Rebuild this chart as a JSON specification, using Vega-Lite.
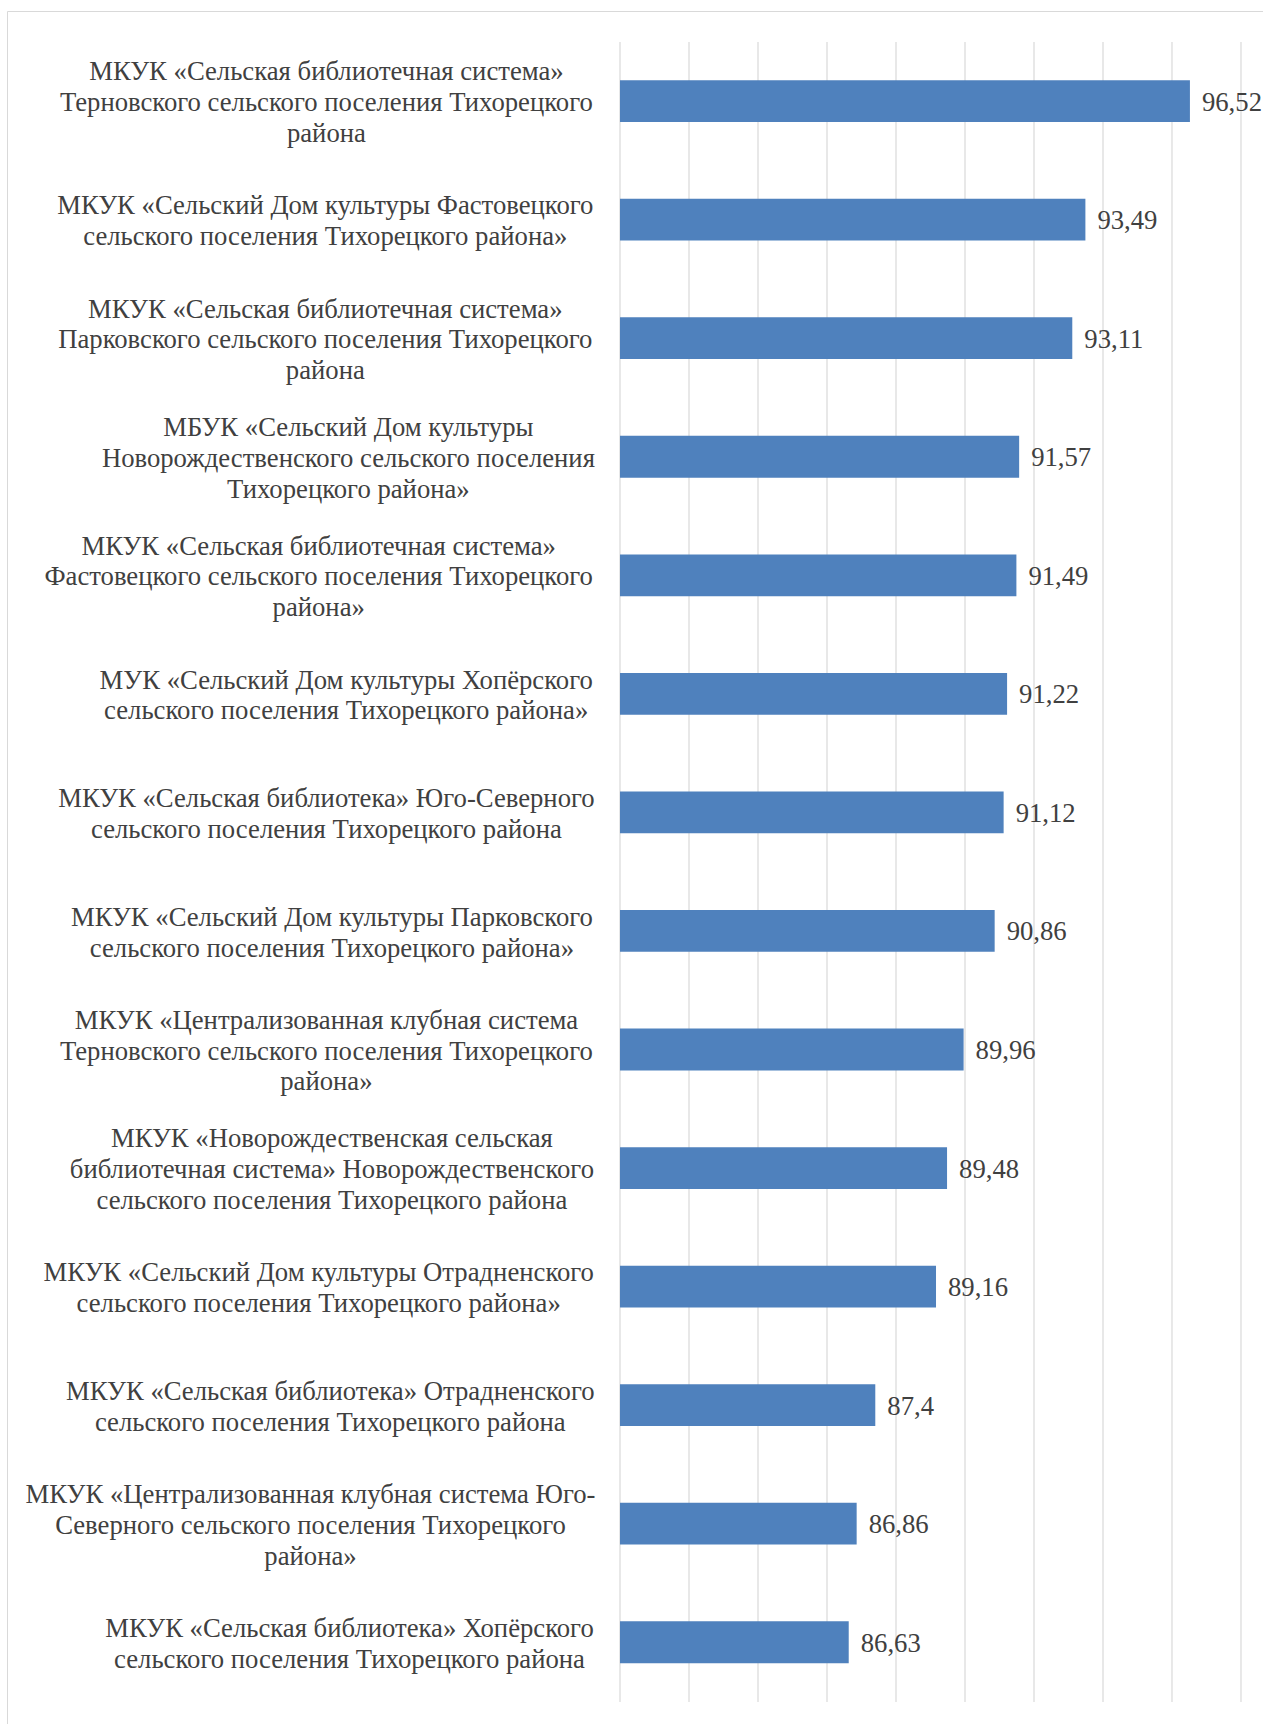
{
  "$schema": "https://vega.github.io/schema/vega-lite/v6.json",
  "width": 1256,
  "height": 1713,
  "padding": {"left": 7, "top": 11, "right": 0, "bottom": 0},
  "autosize": {"type": "none"},
  "background": "white",
  "config": {
    "view": {"stroke": "#D9D9D9", "strokeWidth": 1},
    "locale": {"number": {"decimal": ",", "thousands": " ", "grouping": [3], "currency": ["", ""]}},
    "font": "Liberation Serif"
  },
  "datasets": {
    "bars": [
      {"name": "МКУК «Сельская библиотечная система»|Терновского сельского поселения Тихорецкого|района", "value": 96.52},
      {"name": "МКУК «Сельский Дом культуры Фастовецкого|сельского поселения Тихорецкого района»", "value": 93.49},
      {"name": "МКУК «Сельская библиотечная система»|Парковского сельского поселения Тихорецкого|района", "value": 93.11},
      {"name": "МБУК «Сельский Дом культуры|Новорождественского сельского поселения|Тихорецкого района»", "value": 91.57},
      {"name": "МКУК «Сельская библиотечная система»|Фастовецкого сельского поселения Тихорецкого|района»", "value": 91.49},
      {"name": "МУК «Сельский Дом культуры Хопёрского|сельского поселения Тихорецкого района»", "value": 91.22},
      {"name": "МКУК «Сельская библиотека» Юго-Северного|сельского поселения Тихорецкого района", "value": 91.12},
      {"name": "МКУК «Сельский Дом культуры Парковского|сельского поселения Тихорецкого района»", "value": 90.86},
      {"name": "МКУК «Централизованная клубная система|Терновского сельского поселения Тихорецкого|района»", "value": 89.96},
      {"name": "МКУК «Новорождественская сельская|библиотечная система» Новорождественского|сельского поселения Тихорецкого района", "value": 89.48},
      {"name": "МКУК «Сельский Дом культуры Отрадненского|сельского поселения Тихорецкого района»", "value": 89.16},
      {"name": "МКУК «Сельская библиотека» Отрадненского|сельского поселения Тихорецкого района", "value": 87.4},
      {"name": "МКУК «Централизованная клубная система Юго-|Северного сельского поселения Тихорецкого|района»", "value": 86.86},
      {"name": "МКУК «Сельская библиотека» Хопёрского|сельского поселения Тихорецкого района", "value": 86.63}
    ],
    "grid": [
      {"g": 80}, {"g": 82}, {"g": 84}, {"g": 86}, {"g": 88},
      {"g": 90}, {"g": 92}, {"g": 94}, {"g": 96}, {"g": 98}
    ]
  },
  "layer": [
    {
      "data": {"name": "grid"},
      "mark": {"type": "rule", "color": "#D9D9D9", "strokeWidth": 1.2},
      "encoding": {
        "x": {"field": "g", "type": "quantitative", "scale": {"domain": [62.232, 98.638], "nice": false, "zero": false}, "axis": null},
        "y": {"datum": "МКУК «Сельская библиотечная система»|Терновского сельского поселения Тихорецкого|района", "type": "nominal", "bandPosition": -0.914},
        "y2": {"datum": "МКУК «Сельская библиотека» Хопёрского|сельского поселения Тихорецкого района", "bandPosition": 1.928}
      }
    },
    {
      "data": {"name": "bars"},
      "mark": {"type": "bar", "color": "#4F81BD"},
      "encoding": {
        "x": {"field": "value", "type": "quantitative"},
        "x2": {"datum": 80},
        "y": {
          "field": "name", "type": "nominal", "sort": null,
          "scale": {
            "domain": [
              "МКУК «Сельская библиотечная система»|Терновского сельского поселения Тихорецкого|района",
              "МКУК «Сельский Дом культуры Фастовецкого|сельского поселения Тихорецкого района»",
              "МКУК «Сельская библиотечная система»|Парковского сельского поселения Тихорецкого|района",
              "МБУК «Сельский Дом культуры|Новорождественского сельского поселения|Тихорецкого района»",
              "МКУК «Сельская библиотечная система»|Фастовецкого сельского поселения Тихорецкого|района»",
              "МУК «Сельский Дом культуры Хопёрского|сельского поселения Тихорецкого района»",
              "МКУК «Сельская библиотека» Юго-Северного|сельского поселения Тихорецкого района",
              "МКУК «Сельский Дом культуры Парковского|сельского поселения Тихорецкого района»",
              "МКУК «Централизованная клубная система|Терновского сельского поселения Тихорецкого|района»",
              "МКУК «Новорождественская сельская|библиотечная система» Новорождественского|сельского поселения Тихорецкого района",
              "МКУК «Сельский Дом культуры Отрадненского|сельского поселения Тихорецкого района»",
              "МКУК «Сельская библиотека» Отрадненского|сельского поселения Тихорецкого района",
              "МКУК «Централизованная клубная система Юго-|Северного сельского поселения Тихорецкого|района»",
              "МКУК «Сельская библиотека» Хопёрского|сельского поселения Тихорецкого района"
            ],
            "paddingInner": 0.6474, "paddingOuter": 0.5485, "align": 0.532
          },
          "axis": {
            "title": null,
            "domain": false,
            "ticks": false,
            "tickSize": 0,
            "grid": false,
            "labelExpr": "split(datum.label, '|')",
            "labelAlign": "center",
            "labelBaseline": "middle",
            "labelFont": "Liberation Serif",
            "labelFontSize": 26.7,
            "labelLineHeight": 30.8,
            "labelColor": "#404040",
            "labelLimit": 0,
            "labelOverlap": false,
            "labelBound": false,
            "labelOffset": {
              "condition": {"test": "length(split(datum.value, '|')) >= 3", "value": -28.6},
              "value": -13.2
            },
            "labelPadding": {
              "condition": [
                {"test": "indexof(datum.value, 'система»|Терновского') >= 0", "value": -318.9},
                {"test": "indexof(datum.value, 'культуры Фастовецкого') >= 0", "value": -317.8},
                {"test": "indexof(datum.value, 'Парковского сельского') >= 0", "value": -317.8},
                {"test": "indexof(datum.value, 'МБУК') >= 0", "value": -340.9},
                {"test": "indexof(datum.value, 'Фастовецкого сельского') >= 0", "value": -311.2},
                {"test": "indexof(datum.value, 'культуры Хопёрского') >= 0", "value": -338.7},
                {"test": "indexof(datum.value, 'библиотека» Юго') >= 0", "value": -318.9},
                {"test": "indexof(datum.value, 'культуры Парковского') >= 0", "value": -324.4},
                {"test": "indexof(datum.value, 'система|Терновского') >= 0", "value": -318.9},
                {"test": "indexof(datum.value, 'Новорождественская') >= 0", "value": -324.4},
                {"test": "indexof(datum.value, 'культуры Отрадненского') >= 0", "value": -311.2},
                {"test": "indexof(datum.value, 'библиотека» Отрадненского') >= 0", "value": -322.8},
                {"test": "indexof(datum.value, 'Юго-|') >= 0", "value": -303},
                {"test": "indexof(datum.value, 'библиотека» Хопёрского') >= 0", "value": -342}
              ],
              "value": -318
            }
          }
        }
      }
    },
    {
      "data": {"name": "bars"},
      "mark": {"type": "text", "align": "left", "baseline": "middle", "dx": 12, "dy": 1.5, "font": "Liberation Serif", "fontSize": 26.7, "color": "#404040"},
      "encoding": {
        "x": {"field": "value", "type": "quantitative"},
        "y": {"field": "name", "type": "nominal", "sort": null},
        "text": {"field": "value", "type": "quantitative", "format": ".2~f"}
      }
    }
  ]
}
